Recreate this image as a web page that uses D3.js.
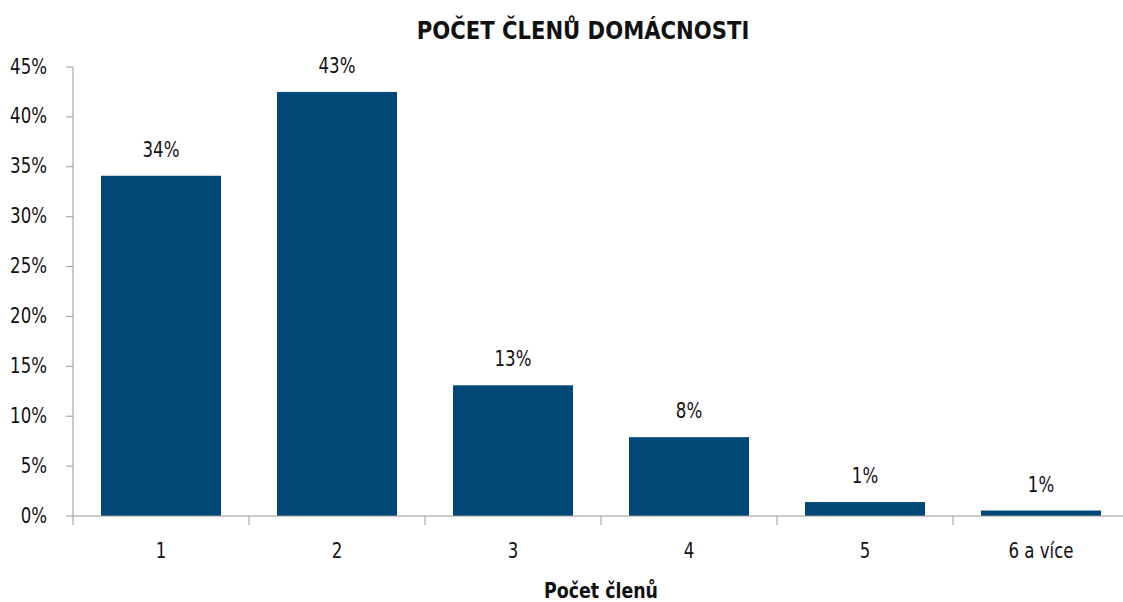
<!DOCTYPE html>
<html><head><meta charset="utf-8">
<script src="https://cdn.jsdelivr.net/npm/d3@7"></script>
<style>
body{margin:0;background:#fff;}
text{font-family:"DejaVu Sans Condensed","DejaVu Sans",sans-serif;fill:#111;}
</style></head>
<body><svg id="c" width="1123" height="602"></svg>
<script>
const categories = ["1","2","3","4","5","6 a více"];
const values = [34.1, 42.5, 13.1, 7.9, 1.4, 0.55];
const labels = ["34%","43%","13%","8%","1%","1%"];
const yTicks = [0,5,10,15,20,25,30,35,40,45];

const svg = d3.select("#c");
const x = d3.scaleBand().domain(categories).range([73,1129]).paddingInner(56/176).paddingOuter(28/176);
const xTick = d3.scaleBand().domain(categories).range([73,1129]);
const y = d3.scaleLinear().domain([0,45]).range([516,67]);

function txt(sel, px, py, s, size, weight, sx, anchor){
  return sel.append("text")
    .attr("transform",`translate(${px},${py}) scale(${sx},1)`)
    .attr("text-anchor",anchor).style("font-size",size+"px").style("font-weight",weight).text(s);
}

txt(svg,583,39,"POČET ČLENŮ DOMÁCNOSTI",24,"bold",0.98,"middle");

svg.selectAll("rect.bar").data(values).enter().append("rect").attr("class","bar")
  .attr("x",(d,i)=>x(categories[i])).attr("width",x.bandwidth())
  .attr("y",d=>y(d)).attr("height",d=>y(0)-y(d)).attr("fill","#004876");

values.forEach((d,i)=>txt(svg,x(categories[i])+x.bandwidth()/2,y(d)-19,labels[i],22,"normal",0.84,"middle"));

// y axis
const gy = svg.append("g");
gy.append("line").attr("x1",73).attr("x2",73).attr("y1",y(45)).attr("y2",y(0)).attr("stroke","#999");
gy.selectAll("line.t").data(yTicks).enter().append("line").attr("class","t")
  .attr("x1",66).attr("x2",73).attr("y1",d=>y(d)).attr("y2",d=>y(d)).attr("stroke","#999");
yTicks.forEach(d=>txt(gy,47,y(d)+6.5,d+"%",22,"normal",0.84,"end"));

// x axis
const gx = svg.append("g");
gx.append("line").attr("x1",73).attr("x2",1129).attr("y1",516).attr("y2",516).attr("stroke","#999");
const tickPos = categories.map(c=>xTick(c));
gx.selectAll("line.t").data(tickPos).enter().append("line").attr("class","t")
  .attr("x1",d=>d).attr("x2",d=>d).attr("y1",516).attr("y2",525).attr("stroke","#999");
categories.forEach(c=>txt(gx,xTick(c)+xTick.bandwidth()/2,558,c,22,"normal",0.84,"middle"));

txt(svg,601,598,"Počet členů",21.5,"bold",0.9,"middle");
</script></body></html>
